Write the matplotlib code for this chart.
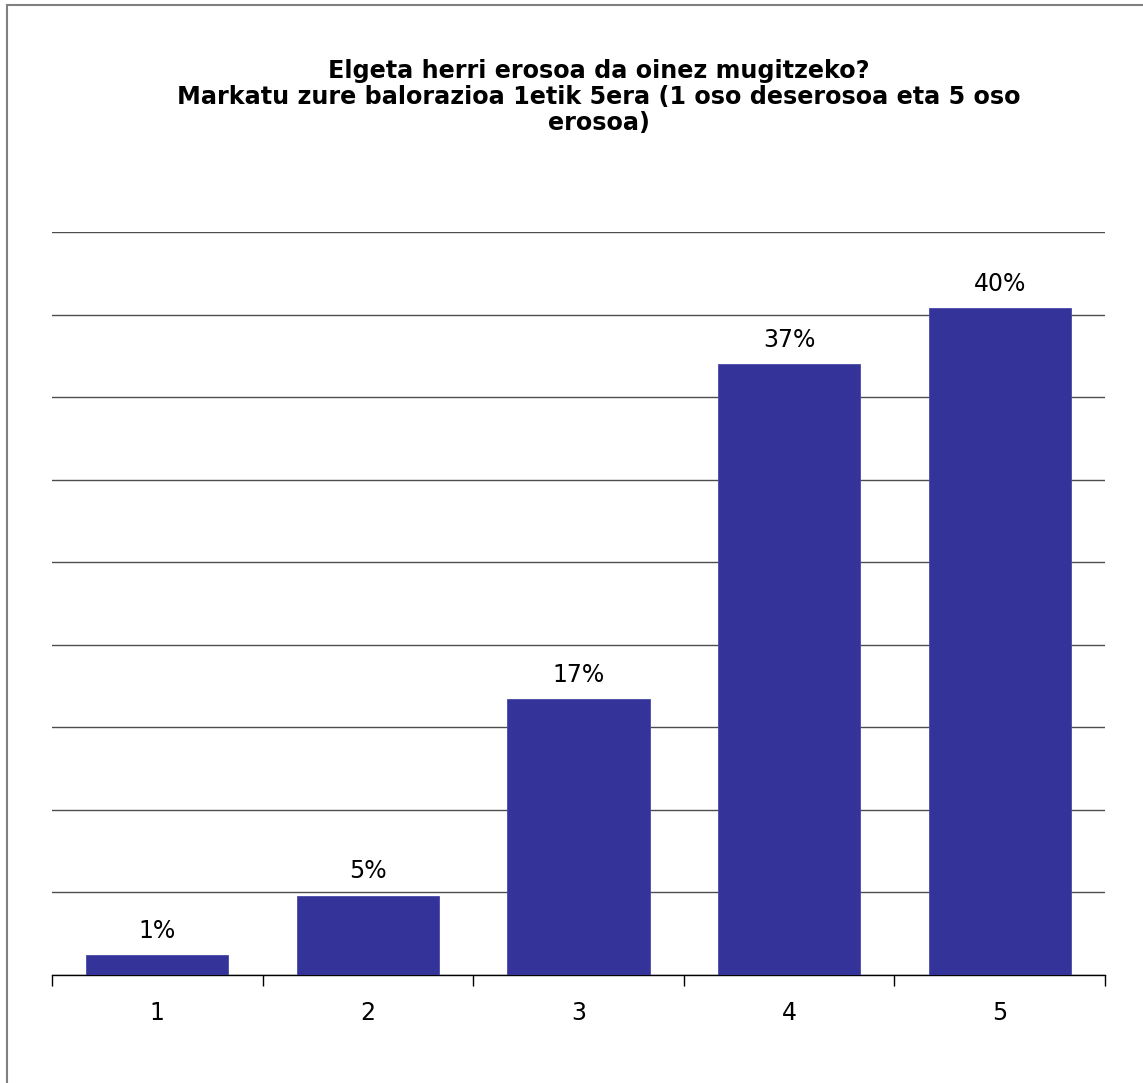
import matplotlib
matplotlib.use("Agg")
import matplotlib.pyplot as plt
from matplotlib.patches import Rectangle
import numpy as np

# survey answers, 1 (very uncomfortable) .. 5 (very comfortable)
categories = ['1', '2', '3', '4', '5']
values = [1.2, 4.8, 16.7, 37.0, 40.4]
value_labels = ['1%', '5%', '17%', '37%', '40%']
title = ("Elgeta herri erosoa da oinez mugitzeko?\n"
         "Markatu zure balorazioa 1etik 5era (1 oso deserosoa eta 5 oso\n"
         "erosoa)")

W, H = 1143, 1083
fig = plt.figure(figsize=(W / 100, H / 100), dpi=100)
ax = fig.add_axes([52 / W, (H - 975) / H, (1105 - 52) / W, (975 - 232) / H])

x = np.arange(len(categories))
ax.bar(x, values, width=0.675, color='#333399', edgecolor='#4a4aa8', linewidth=0.6, zorder=3)

for xi, v, lab in zip(x, values, value_labels):
    ax.annotate(lab, (xi, v), xytext=(0, 12.5), textcoords='offset points',
                ha='center', va='baseline', fontsize=17)

ax.set_xlim(-0.5, len(categories) - 0.5)
ax.set_ylim(0, 45)
ax.set_yticks(np.arange(0, 46, 5))
ax.yaxis.grid(True, color='#4d4d4d', linewidth=1)
ax.tick_params(axis='y', length=0, labelleft=False)

ax.set_xticks(x)
ax.set_xticklabels(categories, fontsize=17)
ax.set_xticks(np.arange(-0.5, len(categories)), minor=True)
ax.tick_params(axis='x', which='major', length=0, pad=19)
ax.tick_params(axis='x', which='minor', length=8, width=1, color='black', direction='out')

for side in ['left', 'right', 'top']:
    ax.spines[side].set_visible(False)
ax.spines['bottom'].set_color('black')
ax.spines['bottom'].set_linewidth(1)

fig.text(599 / W, (H - 97) / H, title, ha='center', va='center', fontsize=17.2,
         fontweight='bold', linespacing=1.1, multialignment='center')

# outer frame (only left and top edges fall inside the image)
fig.patches.append(Rectangle((7 / W, -0.1), 1.2, (H - 5) / H + 0.1,
                             transform=fig.transFigure, fill=False,
                             edgecolor='#808080', linewidth=1.5))

fig.savefig('out.png', dpi=100, facecolor='white')
